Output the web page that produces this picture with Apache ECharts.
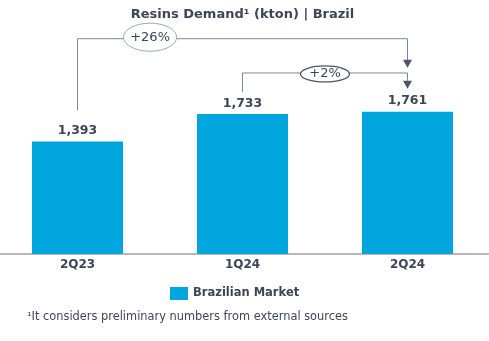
<!DOCTYPE html>
<html>
<head>
<meta charset="utf-8">
<script src="https://cdn.jsdelivr.net/npm/echarts@6/dist/echarts.min.js"></script>
<style>
html,body{margin:0;padding:0;background:#fff;overflow:hidden;}
#c{width:495px;height:341px;margin-left:-5px;}
</style>
</head>
<body>
<div id="c"></div>
<script>
const categories = ['2Q23', '1Q24', '2Q24'];
const values = [1393, 1733, 1761];
const seriesName = 'Brazilian Market';
const changes = ['+26%', '+2%'];
const titleText = 'Resins Demand\u00b9 (kton) | Brazil';
const footnote = '\u00b9It considers preliminary numbers from external sources';

const TXT = '#3c4658';
const BAR = '#00a6dd';
const FONT = '"DejaVu Sans", Verdana, sans-serif';

const chart = echarts.init(document.getElementById('c'), null, {renderer: 'canvas'});
chart.setOption({
  animation: false,
  title: {
    text: titleText, left: 'center', top: 3,
    textStyle: {fontFamily: FONT, fontSize: 13, fontWeight: 'bold', color: TXT}
  },
  legend: {
    data: [seriesName], left: 170, top: 282, itemWidth: 18, itemHeight: 13, itemGap: 6,
    icon: 'rect',
    textStyle: {fontFamily: FONT, fontSize: 11.5, fontWeight: 'bold', color: TXT}
  },
  grid: {left: 0, right: 0, top: 52, bottom: 87, containLabel: false},
  xAxis: {
    type: 'category', data: categories,
    axisLine: {lineStyle: {color: '#b8b8b8', width: 2}},
    axisTick: {show: false},
    axisLabel: {margin: 5, fontFamily: FONT, fontSize: 12, fontWeight: 'bold', color: TXT}
  },
  yAxis: {type: 'value', min: 0, max: 2500, show: false, splitLine: {show: false}},
  series: [{
    name: seriesName, type: 'bar', data: values, barWidth: 91,
    itemStyle: {color: BAR},
    label: {
      show: true, position: 'top', distance: 4,
      fontFamily: FONT, fontSize: 12.5, fontWeight: 'bold', color: TXT,
      formatter: p => p.value.toLocaleString('en-US')
    }
  }]
});

function px(i) { return chart.convertToPixel({seriesIndex: 0}, [i, values[i]]); }
const p0 = px(0), p1 = px(1), p2 = px(2);
const lineStyle = {stroke: '#7d8796', lineWidth: 1, fill: null};
const arrowFill = '#4a5568';
function arrow(x, tipY) {
  return {type: 'polygon', shape: {points: [[x - 4.5, tipY - 8], [x + 4.5, tipY - 8], [x, tipY]]}, style: {fill: arrowFill}};
}
const y1 = p2[1] - 73;
const y2 = p1[1] - 41;
const e1x = p0[0] + (p2[0] - p0[0]) * 0.22;
const e2x = p1[0] + (p2[0] - p1[0]) * 0.5;
const g = [
  {type: 'text', left: 32, top: 312,
    style: {text: footnote, fontFamily: FONT, fontSize: 11.4, fill: TXT}},
  {type: 'polyline', shape: {points: [[p0[0], p0[1] - 31], [p0[0], y1], [p2[0], y1], [p2[0], p2[1] - 51]]}, style: lineStyle},
  arrow(p2[0], p2[1] - 44),
  {type: 'polyline', shape: {points: [[p1[0], p1[1] - 22], [p1[0], y2], [p2[0], y2], [p2[0], p2[1] - 31]]}, style: lineStyle},
  arrow(p2[0], p2[1] - 23),
  {type: 'ellipse', shape: {cx: e1x, cy: y1 - 1.5, rx: 26.5, ry: 14}, style: {fill: '#fff', stroke: '#9aa3ae', lineWidth: 1}},
  {type: 'text', x: e1x, y: y1 - 1.5, style: {text: changes[0], align: 'center', verticalAlign: 'middle', fontFamily: FONT, fontSize: 13, fill: TXT}},
  {type: 'ellipse', shape: {cx: e2x, cy: y2 + 1, rx: 24.5, ry: 8}, style: {fill: '#fff', stroke: '#4a5568', lineWidth: 1.3}},
  {type: 'text', x: e2x, y: y2 + 1, style: {text: changes[1], align: 'center', verticalAlign: 'middle', fontFamily: FONT, fontSize: 13, fill: TXT}}
];
chart.setOption({graphic: g});
</script>
</body>
</html>
